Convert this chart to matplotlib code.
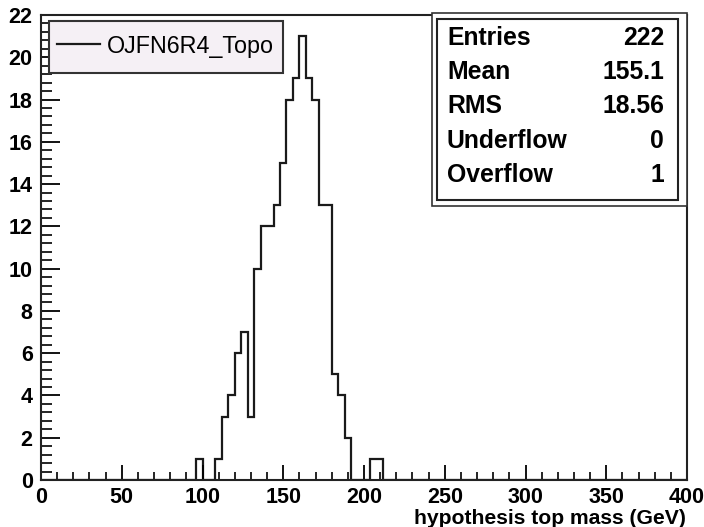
import numpy as np
import matplotlib
matplotlib.use('Agg')  # no display
import matplotlib.pyplot as plt
from matplotlib.patches import Rectangle
from matplotlib.ticker import MultipleLocator

# histogram content, 4 GeV bins (lower bin edge -> entries)
bin_low = [96, 108, 112, 116, 120, 124, 128, 132, 136, 140, 144, 148, 152, 156,
           160, 164, 168, 172, 176, 180, 184, 188, 204, 208]
counts = [1, 1, 3, 4, 6, 7, 3, 10, 12, 12, 13, 15, 18, 19,
          21, 19, 18, 13, 13, 5, 4, 2, 1, 1]
bin_width = 4
x_range = (0, 400)
y_range = (0, 22)

hist_name = 'OJFN6R4_Topo'
x_title = 'hypothesis top mass (GeV)'
stat_names = ['Entries', 'Mean', 'RMS', 'Underflow', 'Overflow']
stat_values = ['222', '155.1', '18.56', '0', '1']

plt.rcParams['font.family'] = ['Liberation Sans', 'DejaVu Sans']
plt.rcParams['font.weight'] = 'bold'

W, H = 704, 527
fig = plt.figure(figsize=(W / 100, H / 100), dpi=100)


def fx(px):
    return px / W


def fy(py):
    return 1 - py / H


ax = fig.add_axes([fx(41), fy(480), fx(687) - fx(41), fy(15) - fy(480)])

edges = np.arange(x_range[0], x_range[1] + bin_width, bin_width)
values = np.zeros(len(edges) - 1)
values[np.array(bin_low) // bin_width] = counts
ax.stairs(values, edges, color='#1a1a1a', lw=1.6, label=hist_name)

ax.set_xlim(*x_range)
ax.set_ylim(*y_range)
ax.xaxis.set_major_locator(MultipleLocator(50))
ax.xaxis.set_minor_locator(MultipleLocator(10))
ax.yaxis.set_major_locator(MultipleLocator(2))
ax.yaxis.set_minor_locator(MultipleLocator(0.4))

for s in ax.spines.values():
    s.set_linewidth(1.5)
    s.set_color('#222222')

ax.tick_params(axis='x', which='major', direction='in', length=11, width=1.3,
               labelsize=15.5, pad=5, top=False)
ax.tick_params(axis='x', which='minor', direction='in', length=6, width=1.2, top=False)
ax.tick_params(axis='y', which='major', direction='in', length=14, width=1.3,
               labelsize=15.5, pad=6, right=False)
ax.tick_params(axis='y', which='minor', direction='in', length=8, width=1.2, right=False)

ax.set_xlabel(x_title, fontsize=15.2, fontweight='bold', ha='right', va='top')
ax.xaxis.set_label_coords(fx(686), fy(509), transform=fig.transFigure)

# legend box drawn separately so its size can follow the reference
legbox = Rectangle((fx(49), fy(73)), fx(283) - fx(49), fy(21) - fy(73),
                   transform=fig.transFigure, facecolor='#f5f0f5', edgecolor='#333333',
                   lw=1.5, zorder=4, clip_on=False)
ax.add_patch(legbox)
leg = ax.legend(loc='center left', bbox_to_anchor=(fx(50), fy(46)),
                bbox_transform=fig.transFigure, frameon=False, handlelength=1.85,
                handletextpad=0.3, borderpad=0.3, borderaxespad=0,
                prop={'weight': 'normal', 'size': 16.8})
leg.set_zorder(5)

# stats box
outer = Rectangle((fx(432), fy(206)), fx(687) - fx(432), fy(13) - fy(206),
                  transform=fig.transFigure, facecolor='white', edgecolor='#333333', lw=1.2)
inner = Rectangle((fx(437), fy(200)), fx(678) - fx(437), fy(19) - fy(200),
                  transform=fig.transFigure, facecolor='white', edgecolor='#222222', lw=1.5)
fig.add_artist(outer)
fig.add_artist(inner)
row_y = [38, 72, 106, 141, 175]
for name, val, yy in zip(stat_names, stat_values, row_y):
    fig.text(fx(447), fy(yy), name, fontsize=17.8, fontweight='bold', va='center', ha='left')
    fig.text(fx(664), fy(yy), val, fontsize=17.8, fontweight='bold', va='center', ha='right')

fig.savefig('out.png', dpi=100)
